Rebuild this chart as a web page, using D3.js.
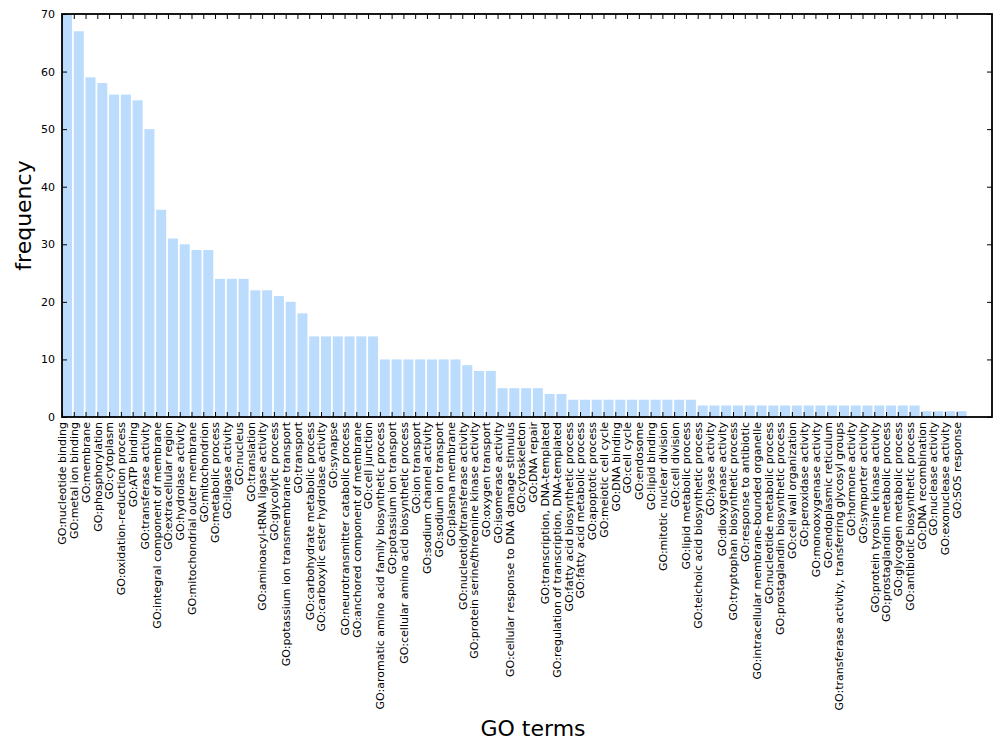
<!DOCTYPE html>
<html><head><meta charset="utf-8">
<script src="https://cdn.jsdelivr.net/npm/d3@7"></script>
<style>body{margin:0;background:#fff}svg{display:block} text{font-family:'DejaVu Sans',sans-serif}</style>
</head><body>
<script>
const categories = ["GO:nucleotide binding","GO:metal ion binding","GO:membrane","GO:phosphorylation","GO:cytoplasm","GO:oxidation-reduction process","GO:ATP binding","GO:transferase activity","GO:integral component of membrane","GO:extracellular region","GO:hydrolase activity","GO:mitochondrial outer membrane","GO:mitochondrion","GO:metabolic process","GO:ligase activity","GO:nucleus","GO:translation","GO:aminoacyl-tRNA ligase activity","GO:glycolytic process","GO:potassium ion transmembrane transport","GO:transport","GO:carbohydrate metabolic process","GO:carboxylic ester hydrolase activity","GO:synapse","GO:neurotransmitter catabolic process","GO:anchored component of membrane","GO:cell junction","GO:aromatic amino acid family biosynthetic process","GO:potassium ion transport","GO:cellular amino acid biosynthetic process","GO:ion transport","GO:sodium channel activity","GO:sodium ion transport","GO:plasma membrane","GO:nucleotidyltransferase activity","GO:protein serine/threonine kinase activity","GO:oxygen transport","GO:isomerase activity","GO:cellular response to DNA damage stimulus","GO:cytoskeleton","GO:DNA repair","GO:transcription, DNA-templated","GO:regulation of transcription, DNA-templated","GO:fatty acid biosynthetic process","GO:fatty acid metabolic process","GO:apoptotic process","GO:meiotic cell cycle","GO:DNA binding","GO:cell cycle","GO:endosome","GO:lipid binding","GO:mitotic nuclear division","GO:cell division","GO:lipid metabolic process","GO:teichoic acid biosynthetic process","GO:lyase activity","GO:dioxygenase activity","GO:tryptophan biosynthetic process","GO:response to antibiotic","GO:intracellular membrane-bounded organelle","GO:nucleotide metabolic process","GO:prostaglandin biosynthetic process","GO:cell wall organization","GO:peroxidase activity","GO:monooxygenase activity","GO:endoplasmic reticulum","GO:transferase activity, transferring glycosyl groups","GO:hormone activity","GO:symporter activity","GO:protein tyrosine kinase activity","GO:prostaglandin metabolic process","GO:glycogen metabolic process","GO:antibiotic biosynthetic process","GO:DNA recombination","GO:nuclease activity","GO:exonuclease activity","GO:SOS response"];
const frequency = [70,67,59,58,56,56,55,50,36,31,30,29,29,24,24,24,22,22,21,20,18,14,14,14,14,14,14,10,10,10,10,10,10,10,9,8,8,5,5,5,5,4,4,3,3,3,3,3,3,3,3,3,3,3,2,2,2,2,2,2,2,2,2,2,2,2,2,2,2,2,2,2,2,1,1,1,1];
const yTicks = [0,10,20,30,40,50,60,70];

const W = 993, H = 743;
const L = 62, T = 14, R = 992, B = 417;
const FONT = "'DejaVu Sans', sans-serif";
const svg = d3.select("body").append("svg").attr("width", W).attr("height", H)
  .attr("font-family", FONT);

const x = d3.scaleLinear().domain([0, 79]).range([L, R]);
const y = d3.scaleLinear().domain([0, 70]).range([B, T]);

svg.append("g").selectAll("rect").data(frequency).join("rect")
  .attr("x", (d, i) => x(i))
  .attr("width", (d, i) => x(i + 0.85) - x(i))
  .attr("y", d => y(d))
  .attr("height", d => y(0) - y(d))
  .attr("fill", "#bbdcfd");

const xTickVals = categories.map((c, i) => i);
const xAxis = d3.axisBottom(x).tickValues(xTickVals).tickSizeInner(-5).tickSizeOuter(0)
  .tickFormat((d, i) => categories[i]);
const gx = svg.append("g").attr("transform", `translate(0,${B})`).call(xAxis).attr("font-family", FONT);
gx.select(".domain").remove();
gx.selectAll(".tick line").attr("stroke", "#000");
gx.selectAll(".tick text")
  .attr("font-size", 11).attr("fill", "#000")
  .attr("transform", "rotate(-90)")
  .attr("text-anchor", "end")
  .attr("x", -5).attr("y", 0).attr("dy", "0.35em");

const gxt = svg.append("g").attr("transform", `translate(0,${T})`)
  .call(d3.axisTop(x).tickValues(xTickVals).tickSizeInner(-5).tickSizeOuter(0).tickFormat(""));
gxt.select(".domain").remove();

const gy = svg.append("g").attr("transform", `translate(${L},0)`)
  .call(d3.axisLeft(y).tickValues(yTicks).tickSizeInner(-5).tickSizeOuter(0).tickPadding(7))
  .attr("font-family", FONT);
gy.select(".domain").remove();
gy.selectAll(".tick text").attr("font-size", 11).attr("fill", "#000");
const gyr = svg.append("g").attr("transform", `translate(${R},0)`)
  .call(d3.axisRight(y).tickValues(yTicks).tickSizeInner(-5).tickSizeOuter(0).tickFormat(""));
gyr.select(".domain").remove();

svg.append("rect").attr("x", L).attr("y", T).attr("width", R - L).attr("height", B - T)
  .attr("fill", "none").attr("stroke", "#000").attr("stroke-width", 1.8);

svg.append("text").attr("x", 533).attr("y", 736).attr("text-anchor", "middle")
  .attr("font-size", 22).text("GO terms");
svg.append("text").attr("transform", `translate(31,${(T + B) / 2}) rotate(-90)`)
  .attr("text-anchor", "middle").attr("font-size", 22).text("frequency");
</script>
</body></html>
